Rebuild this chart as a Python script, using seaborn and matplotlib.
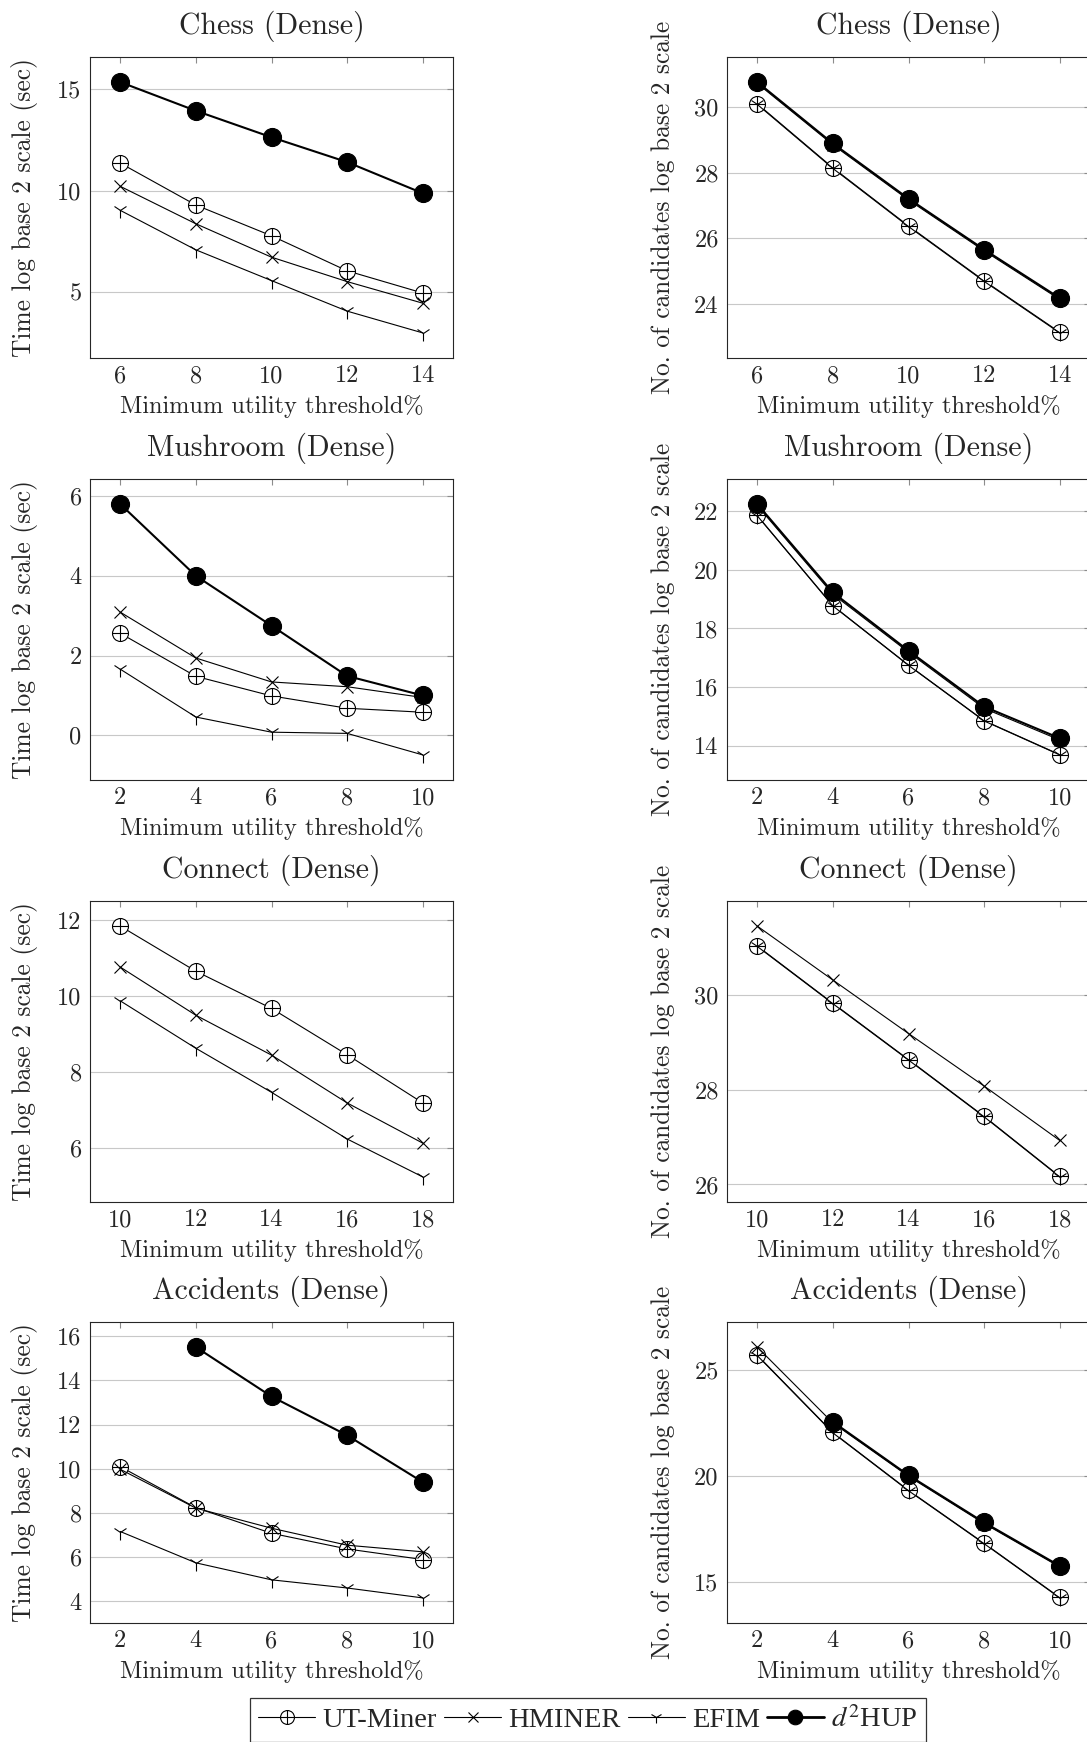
import numpy as np
import pandas as pd
import matplotlib
matplotlib.use("Agg")
import matplotlib.pyplot as plt
from matplotlib.path import Path
from matplotlib.lines import Line2D
import seaborn as sns

# ---------------- data ----------------
algorithms = ["UT-Miner", "HMINER", "EFIM", "d2HUP"]
legend_labels = ["UT-Miner", "HMINER", "EFIM", "$d^2$HUP"]

chess_x = [6, 8, 10, 12, 14]
mushroom_x = [2, 4, 6, 8, 10]
connect_x = [10, 12, 14, 16, 18]
accidents_x = [2, 4, 6, 8, 10]

nan = np.nan
# Running time (log2 sec)
chess_time_ut = [11.35, 9.29, 7.78, 6.06, 4.97]
chess_time_hm = [10.21, 8.37, 6.73, 5.53, 4.47]
chess_time_efim = [9.03, 7.09, 5.58, 4.08, 3.01]
chess_time_d2 = [15.33, 13.92, 12.62, 11.40, 9.87]

mushroom_time_ut = [2.56, 1.48, 0.99, 0.68, 0.58]
mushroom_time_hm = [3.09, 1.94, 1.34, 1.22, 0.95]
mushroom_time_efim = [1.66, 0.46, 0.08, 0.05, -0.49]
mushroom_time_d2 = [5.80, 4.00, 2.75, 1.49, 1.00]

connect_time_ut = [11.85, 10.66, 9.68, 8.46, 7.19]
connect_time_hm = [10.77, 9.50, 8.45, 7.19, 6.13]
connect_time_efim = [9.88, 8.63, 7.47, 6.24, 5.24]
connect_time_d2 = [nan, nan, nan, nan, nan]

accidents_time_ut = [10.09, 8.23, 7.07, 6.36, 5.88]
accidents_time_hm = [9.97, 8.21, 7.30, 6.53, 6.23]
accidents_time_efim = [7.15, 5.73, 4.96, 4.59, 4.14]
accidents_time_d2 = [nan, 15.51, 13.27, 11.51, 9.39]

# Number of candidates (log2)
chess_cand_ut = [30.10, 28.15, 26.38, 24.71, 23.14]
chess_cand_hm = [30.72, 28.85, 27.17, 25.62, 24.14]
chess_cand_efim = [30.08, 28.13, 26.36, 24.69, 23.12]
chess_cand_d2 = [30.76, 28.89, 27.21, 25.66, 24.18]

mushroom_cand_ut = [21.86, 18.78, 16.75, 14.85, 13.69]
mushroom_cand_hm = [22.20, 19.17, 17.19, 15.27, 14.19]
mushroom_cand_efim = [21.85, 18.77, 16.74, 14.84, 13.68]
mushroom_cand_d2 = [22.25, 19.23, 17.24, 15.33, 14.25]

connect_cand_ut = [31.04, 29.83, 28.64, 27.44, 26.17]
connect_cand_hm = [31.46, 30.32, 29.19, 28.08, 26.93]
connect_cand_efim = [31.03, 29.82, 28.63, 27.43, 26.16]
connect_cand_d2 = [nan, nan, nan, nan, nan]

accidents_cand_ut = [25.72, 22.07, 19.34, 16.84, 14.28]
accidents_cand_hm = [26.10, 22.52, 20.00, 17.77, 15.72]
accidents_cand_efim = [25.70, 22.05, 19.32, 16.82, 14.26]
accidents_cand_d2 = [nan, 22.57, 20.05, 17.82, 15.77]

titles = ["Chess (Dense)", "Mushroom (Dense)", "Connect (Dense)", "Accidents (Dense)"]
xs = [chess_x, mushroom_x, connect_x, accidents_x]
time_series = [
    [chess_time_ut, chess_time_hm, chess_time_efim, chess_time_d2],
    [mushroom_time_ut, mushroom_time_hm, mushroom_time_efim, mushroom_time_d2],
    [connect_time_ut, connect_time_hm, connect_time_efim, connect_time_d2],
    [accidents_time_ut, accidents_time_hm, accidents_time_efim, accidents_time_d2],
]
cand_series = [
    [chess_cand_ut, chess_cand_hm, chess_cand_efim, chess_cand_d2],
    [mushroom_cand_ut, mushroom_cand_hm, mushroom_cand_efim, mushroom_cand_d2],
    [connect_cand_ut, connect_cand_hm, connect_cand_efim, connect_cand_d2],
    [accidents_cand_ut, accidents_cand_hm, accidents_cand_efim, accidents_cand_d2],
]
time_yticks = [[5, 10, 15], [0, 2, 4, 6], [6, 8, 10, 12], [4, 6, 8, 10, 12, 14, 16]]
cand_yticks = [[24, 26, 28, 30], [14, 16, 18, 20, 22], [26, 28, 30], [15, 20, 25]]

xlabel = "Minimum utility threshold%"
ylabel_time = "Time log base 2 scale (sec)"
ylabel_cand = "No. of candidates log base 2 scale"

# ---------------- style ----------------
sns.set_style("white")
plt.rcParams['font.family'] = ['cmr10']
plt.rcParams['mathtext.fontset'] = 'stix'
plt.rcParams['axes.formatter.use_mathtext'] = True
plt.rcParams['axes.unicode_minus'] = False

circ = Path.unit_circle()
plus = Path([[-1, 0], [1, 0], [0, -1], [0, 1]],
            [Path.MOVETO, Path.LINETO, Path.MOVETO, Path.LINETO])
oplus = Path.make_compound_path(circ, plus)

styles = {
    "UT-Miner": dict(marker=oplus, markersize=11.5, markerfacecolor="white",
                     markeredgecolor="black", markeredgewidth=0.8, linewidth=0.8),
    "HMINER": dict(marker="x", markersize=8.5, markerfacecolor="black",
                   markeredgecolor="black", markeredgewidth=0.8, linewidth=0.8),
    "EFIM": dict(marker="1", markersize=11, markerfacecolor="black",
                 markeredgecolor="black", markeredgewidth=0.8, linewidth=0.8),
    "d2HUP": dict(marker="o", markersize=13, markerfacecolor="black",
                  markeredgecolor="black", markeredgewidth=0.8, linewidth=1.5),
}

W, H = 1087, 1742
fig = plt.figure(figsize=(W / 100, H / 100), dpi=100)
lefts = [90, 727]
ax_w, ax_h = 363, 301
tops = [57, 479, 901, 1322]

def draw_panel(ax, x, series, yticks, title, ylabel):
    for alg, vals in zip(algorithms, series):
        df = pd.DataFrame({"threshold": x, "value": vals}).dropna()
        if df.empty:
            continue
        sns.lineplot(data=df, x="threshold", y="value", ax=ax, color="black",
                     estimator=None, errorbar=None, sort=False, **styles[alg])
    allv = np.array([v for s in series for v in s], dtype=float)
    lo, hi = np.nanmin(allv), np.nanmax(allv)
    rng = hi - lo
    xr = max(x) - min(x)
    ax.set_xticks(x, labels=[str(v) for v in x])
    ax.set_yticks(yticks, labels=[str(v) for v in yticks])
    ax.set_xlim(min(x) - 0.1 * xr, max(x) + 0.1 * xr)
    ax.set_ylim(lo - 0.1 * rng, hi + 0.1 * rng)
    ax.set_title(title, fontsize=21.5, pad=17)
    ax.set_xlabel(xlabel, fontsize=17.5)
    ax.set_ylabel(ylabel, fontsize=18.3)
    ax.xaxis.set_label_coords(0.5, -0.122)
    ax.yaxis.set_label_coords(-0.143, 0.5)
    ax.tick_params(direction="in", length=4.3, width=0.8, color="#8c8c8c",
                   top=True, right=True, labelsize=17.5)
    ax.tick_params(axis="y", pad=6)
    ax.tick_params(axis="x", pad=5)
    ax.yaxis.grid(True, color="#c8c8c8", linewidth=0.8)
    ax.xaxis.grid(False)
    ax.set_axisbelow(True)
    for sp in ax.spines.values():
        sp.set_color("#262626")
        sp.set_linewidth(0.8)

for r in range(4):
    bottom = 1 - (tops[r] + ax_h) / H
    for c in range(2):
        ax = fig.add_axes([lefts[c] / W, bottom, ax_w / W, ax_h / H])
        if c == 0:
            draw_panel(ax, xs[r], time_series[r], time_yticks[r], titles[r], ylabel_time)
        else:
            draw_panel(ax, xs[r], cand_series[r], cand_yticks[r], titles[r], ylabel_cand)

handles = []
leg_sizes = {"UT-Miner": 10, "HMINER": 7, "EFIM": 8.5, "d2HUP": 10.5}
for alg in algorithms:
    st = dict(styles[alg])
    st["markersize"] = leg_sizes[alg]
    if alg == "d2HUP":
        st["linewidth"] = 2.0
    handles.append(Line2D([], [], color="black", **st))
leg = fig.legend(handles, legend_labels, loc="upper center", ncol=4,
                 bbox_to_anchor=(588 / W, 1 - 1698 / H), bbox_transform=fig.transFigure,
                 prop={"family": "Liberation Serif", "size": 20.5},
                 frameon=True, fancybox=False, edgecolor="black",
                 handlelength=2.0, handletextpad=0.25, columnspacing=0.25,
                 borderpad=0.3, borderaxespad=0)
leg.get_frame().set_linewidth(0.9)

fig.savefig("out.png", dpi=100)
